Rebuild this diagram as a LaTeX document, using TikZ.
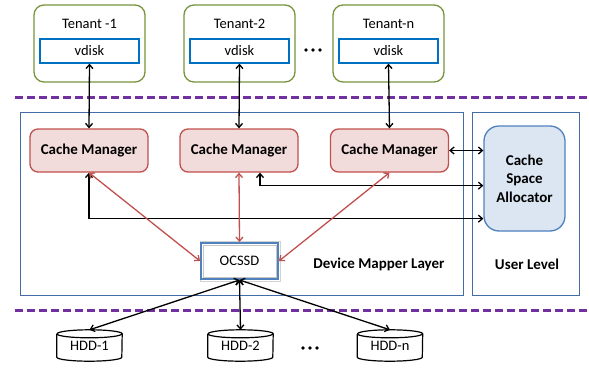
\documentclass[tikz,border=0pt]{standalone}
\usepackage{fontspec}
\setmainfont{Carlito}
\usetikzlibrary{arrows.meta}
\definecolor{tenantgreen}{RGB}{119,147,60}
\definecolor{diskblue}{RGB}{0,112,192}
\definecolor{layerblue}{RGB}{68,108,168}
\definecolor{sepviolet}{RGB}{112,48,160}
\definecolor{cmred}{RGB}{192,80,77}
\definecolor{cmfill}{RGB}{242,220,219}
\definecolor{csafill}{RGB}{220,230,242}
\definecolor{csaedge}{RGB}{79,129,189}
\begin{document}
\begin{tikzpicture}[x=1pt,y=1pt,
  every node/.style={font=\fontsize{14.5}{17}\selectfont, inner sep=0pt},
  boldtext/.style={font=\fontsize{15}{18.5}\selectfont\bfseries},
  tenant/.style={draw=tenantgreen, line width=1.3pt, rounded corners=10pt,
    minimum width=111pt, minimum height=77pt},
  vdiskbox/.style={draw=diskblue, line width=1.3pt, fill=white,
    minimum width=99pt, minimum height=24pt},
  layer/.style={draw=layerblue, line width=1pt},
  cachemgr/.style={draw=cmred, fill=cmfill, line width=1.3pt, rounded corners=8pt,
    minimum width=118pt, minimum height=43pt, boldtext},
  allocator/.style={draw=csaedge, fill=csafill, line width=1.3pt, rounded corners=15pt,
    minimum width=81pt, minimum height=105pt, align=center, boldtext},
  ocbox/.style={draw=csaedge, fill=white, line width=2pt,
    minimum width=77pt, minimum height=36pt},
  hdd/.style={minimum width=65pt, minimum height=31pt},
  sep/.style={draw=sepviolet, line width=3pt, dash pattern=on 8pt off 4pt},
  blk/.style={line width=1.3pt, {Straight Barb[length=4pt,width=7pt]}-{Straight Barb[length=4pt,width=7pt]}},
  redarr/.style={draw=cmred, line width=1.3pt, {Straight Barb[length=4pt,width=7pt]}-{Straight Barb[length=4pt,width=7pt]}},
]
\useasboundingbox (0,0) rectangle (589,368);

% tenants
\node[tenant] (t1) at (89.5,324.5) {};
\node[tenant] (t2) at (239.5,324.5) {};
\node[tenant] (tn) at (388.5,324.5) {};
\node (t1l) at (89.5,344) {Tenant -1};
\node (t2l) at (239.5,344) {Tenant-2};
\node (tnl) at (388.5,344) {Tenant-n};
\node[vdiskbox] (v1) at (89.5,317) {vdisk};
\node[vdiskbox] (v2) at (239.5,317) {vdisk};
\node[vdiskbox] (vn) at (388.5,317) {vdisk};
\foreach \px in {306,313,320} \fill (\px,318) circle (1.9);

% separators
\coordinate (s1a) at (15,271); \coordinate (s1b) at (589,271);
\coordinate (s2a) at (15,58);  \coordinate (s2b) at (589,58);
\draw[sep] (s1a) -- (s1b);
\draw[sep] (s2a) -- (s2b);

% layers
\node[layer, minimum width=443pt, minimum height=183pt] (dml) at (241.5,164.5) {};
\node[layer, minimum width=107pt, minimum height=183pt] (ul) at (525.5,164.5) {};
\node[boldtext] (dmll) at (379,104) {Device Mapper Layer};
\node[boldtext] (ull) at (527,104) {User Level};

% cache managers and allocator
\node[cachemgr] (cm1) at (89,217.5) {Cache Manager};
\node[cachemgr] (cm2) at (239,217.5) {Cache Manager};
\node[cachemgr] (cm3) at (389.5,217.5) {Cache Manager};
\node[allocator] (csa) at (524.5,189.5) {Cache\\Space\\Allocator};

% OCSSD
\draw[gray!35, line width=0.8pt] (200,87) rectangle (280,127);
\node[ocbox] (oc) at (239.5,107) {OCSSD};
\draw[gray!45, line width=0.6pt] ([shift={(3pt,-3pt)}]oc.north west) rectangle ([shift={(-3pt,3pt)}]oc.south east);

% HDDs
\node[hdd] (h1) at (89.5,22.5) {HDD-1};
\node[hdd] (h2) at (240.5,22.5) {HDD-2};
\node[hdd] (hn) at (390,22.5) {HDD-n};
\foreach \n in {h1,h2,hn}{
  \draw[line width=1.2pt] ([yshift=-4pt]\n.north west) -- ([yshift=4pt]\n.south west)
    arc[start angle=180,end angle=360,x radius=32.5,y radius=4]
    -- ([yshift=-4pt]\n.north east)
    arc[start angle=0,end angle=180,x radius=32.5,y radius=4];
  \draw[line width=1.2pt] ([yshift=-4pt]\n.north west)
    arc[start angle=180,end angle=360,x radius=32.5,y radius=4];
}
\foreach \px in {303,310,317} \fill (\px,20) circle (1.9);

% connectors
\draw[blk] (v1.south) -- (cm1.north);
\draw[blk] (v2.south) -- (cm2.north);
\draw[blk] (vn.south) -- (cm3.north);
\draw[blk] (cm3.east) -- (cm3.east -| csa.west);
\draw[blk] ([xshift=21pt]cm2.south) |- ([yshift=-13pt]cm2.south -| csa.west);
\draw[blk] (cm1.south) |- ([yshift=-46pt]cm1.south -| csa.west);
\draw[redarr] (cm1.south) -- (oc.west);
\draw[redarr] (cm2.south) -- (oc.north);
\draw[redarr] (cm3.south) -- (oc.east);
\draw[blk] (oc.south) -- (h1.north);
\draw[blk] (oc.south) -- (h2.north);
\draw[blk] (oc.south) -- (hn.north);
\end{tikzpicture}
\end{document}
